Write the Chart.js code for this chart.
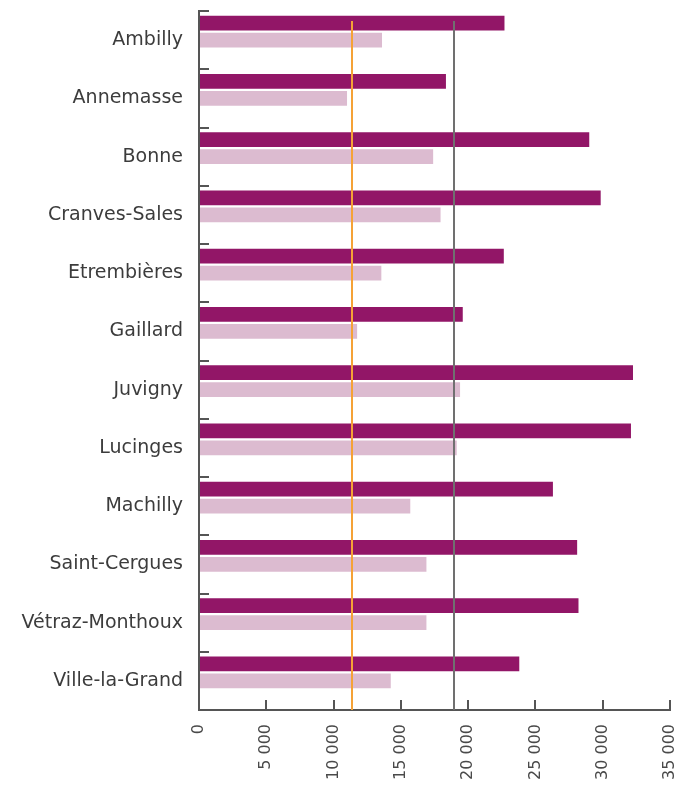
<!DOCTYPE html>
<html>
<head>
<meta charset="utf-8">
<title>Communes</title>
<script src="https://cdn.jsdelivr.net/npm/chart.js@4/dist/chart.umd.min.js"></script>
<style>
  html, body { margin: 0; padding: 0; background: #fff; }
  #wrap { width: 675px; height: 787px; }
</style>
</head>
<body>
<div id="wrap"><canvas id="chart"></canvas></div>
<script>
const communes = [
    'Ambilly', 'Annemasse', 'Bonne', 'Cranves-Sales', 'Etrembières', 'Gaillard',
    'Juvigny', 'Lucinges', 'Machilly', 'Saint-Cergues', 'Vétraz-Monthoux', 'Ville-la-Grand'
];
const darkValues = [22700, 18350, 29000, 29850, 22650, 19600, 32250, 32100, 26300, 28100, 28200, 23800];
const lightValues = [13600, 11000, 17400, 17950, 13550, 11750, 19400, 19150, 15700, 16900, 16900, 14250];
const xTicks = [0, 5000, 10000, 15000, 20000, 25000, 30000, 35000];

// vertical reference lines
const orangeLine = 11370;
const greyLine = 18950;

const AXIS = '#555555';
const fontFamily = '"DejaVu Sans", sans-serif';

function formatThousands(v) {
    return String(v).replace(/\B(?=(\d{3})+(?!\d))/g, ' ');
}

const refLines = {
    id: 'refLines',
    afterDatasetsDraw(chart) {
        const ctx = chart.ctx;
        const x = chart.scales.x;
        const area = chart.chartArea;
        [[orangeLine, '#f5a236'], [greyLine, '#707070']].forEach(function(item) {
            const px = Math.round(x.getPixelForValue(item[0]));
            ctx.save();
            ctx.strokeStyle = item[1];
            ctx.lineWidth = 2;
            ctx.beginPath();
            ctx.moveTo(px, area.top + 10);
            ctx.lineTo(px, area.bottom);
            ctx.stroke();
            ctx.restore();
        });
    }
};

new Chart(document.getElementById('chart'), {
    type: 'bar',
    data: {
        labels: communes,
        datasets: [
            { data: darkValues, backgroundColor: '#921667' },
            { data: lightValues, backgroundColor: '#dcbbd0' },
            // empty slot so the pair sits in the upper part of each row
            { data: [], backgroundColor: 'transparent' }
        ]
    },
    options: {
        indexAxis: 'y',
        responsive: true,
        maintainAspectRatio: false,
        animation: false,
        categoryPercentage: 0.8755,
        barPercentage: 0.882,
        layout: { padding: { top: 11, right: 5, left: 0, bottom: 0 } },
        plugins: {
            legend: { display: false },
            tooltip: { enabled: false }
        },
        scales: {
            x: {
                min: 0,
                max: 35000,
                afterBuildTicks: function(scale) {
                    scale.ticks = xTicks.map(v => ({ value: v }));
                },
                afterFit: function(scale) {
                    scale.height = 77;
                    scale.paddingLeft = 0;
                    scale.paddingRight = 0;
                },
                border: { color: AXIS, width: 2 },
                grid: { drawOnChartArea: false, color: AXIS, lineWidth: 2, tickLength: -10 },
                ticks: {
                    minRotation: 90,
                    maxRotation: 90,
                    padding: 24,
                    color: '#4a4a4a',
                    font: { family: fontFamily, size: 16 },
                    callback: v => formatThousands(v)
                }
            },
            y: {
                afterFit: function(scale) {
                    scale.width = 199;
                    scale.paddingTop = 0;
                    scale.paddingBottom = 0;
                },
                border: { color: AXIS, width: 2 },
                grid: { drawOnChartArea: false, color: AXIS, lineWidth: 2, tickLength: -10 },
                ticks: {
                    padding: 26,
                    color: '#3c3c3c',
                    font: { family: fontFamily, size: 19 }
                }
            }
        }
    },
    plugins: [refLines]
});
</script>
</body>
</html>
